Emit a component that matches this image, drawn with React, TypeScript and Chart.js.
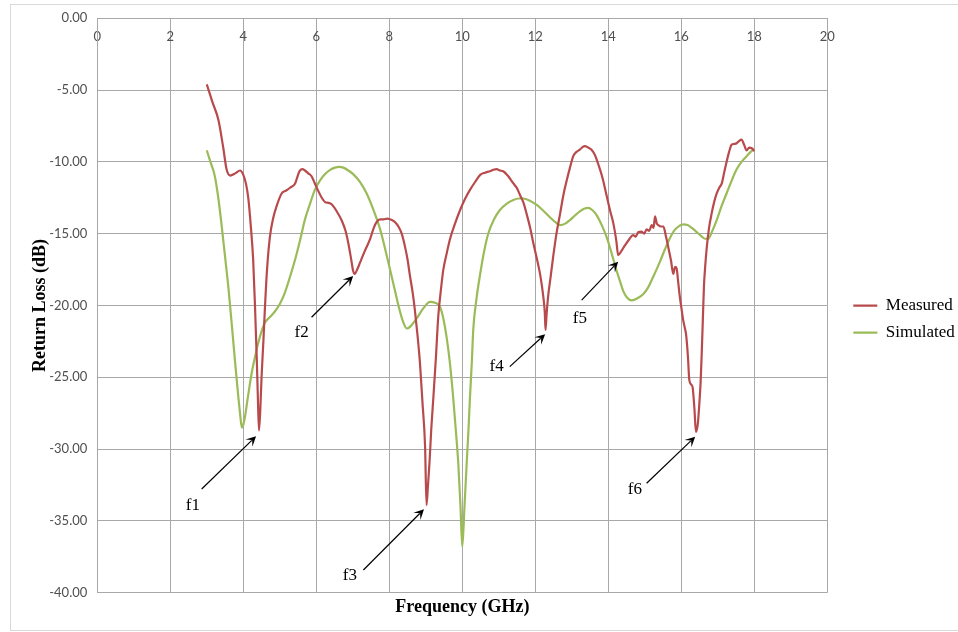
import React, { useEffect, useRef } from 'react';
import { Chart, registerables } from 'chart.js';

Chart.register(...registerables);

// Return loss traces (frequency in GHz, loss in dB)
const freqMeasured = [
  3.0, 3.15, 3.32, 3.45, 3.54, 3.64, 3.78, 3.91, 4.0, 4.08, 4.14, 4.2, 4.27, 4.32, 4.37, 4.4, 4.43, 4.47, 4.5, 4.55,
  4.59, 4.65, 4.73, 4.82, 4.91, 5.05, 5.17, 5.28, 5.42, 5.5, 5.55, 5.62, 5.69, 5.78, 5.87, 5.96, 6.05, 6.15, 6.24, 6.33,
  6.42, 6.55, 6.7, 6.8, 6.88, 6.95, 7.01, 7.05, 7.12, 7.2, 7.33, 7.47, 7.56, 7.65, 7.75, 7.84, 7.95, 8.07, 8.16, 8.25,
  8.34, 8.43, 8.5, 8.57, 8.64, 8.7, 8.77, 8.84, 8.91, 8.98, 9.02, 9.06, 9.1, 9.15, 9.21, 9.28, 9.34, 9.41, 9.48, 9.57,
  9.66, 9.8, 9.94, 10.07, 10.21, 10.35, 10.49, 10.62, 10.76, 10.85, 10.94, 11.03, 11.12, 11.26, 11.4, 11.49, 11.58, 11.67, 11.76, 11.86,
  11.95, 12.04, 12.13, 12.19, 12.22, 12.26, 12.28, 12.31, 12.35, 12.42, 12.49, 12.58, 12.68, 12.77, 12.86, 12.95, 13.04, 13.13, 13.22, 13.3,
  13.36, 13.45, 13.54, 13.63, 13.73, 13.84, 13.95, 14.05, 14.14, 14.22, 14.27, 14.36, 14.46, 14.57, 14.68, 14.75, 14.82, 14.91, 14.98, 15.05,
  15.12, 15.19, 15.24, 15.28, 15.33, 15.37, 15.45, 15.51, 15.58, 15.64, 15.72, 15.78, 15.83, 15.87, 15.92, 15.96, 16.01, 16.05, 16.1, 16.13,
  16.18, 16.22, 16.27, 16.31, 16.36, 16.4, 16.45, 16.49, 16.53, 16.56, 16.59, 16.62, 16.66, 16.7, 16.76, 16.83, 16.9, 16.97, 17.04, 17.11,
  17.17, 17.24, 17.31, 17.38, 17.45, 17.52, 17.58, 17.65, 17.72, 17.79, 17.86, 17.93, 18.0,
];
const lossMeasured = [
  -4.6, -5.8, -7.1, -9.0, -10.5, -10.95, -10.8, -10.6, -10.9, -11.6, -12.6, -14.3, -16.8, -20.0, -23.8, -26.5, -28.7, -27.0, -25.0, -22.5,
  -20.3, -17.5, -15.2, -13.9, -13.1, -12.2, -12.0, -11.8, -11.5, -10.9, -10.6, -10.5, -10.6, -10.8, -11.0, -11.5, -12.0, -12.5, -12.8, -12.85,
  -12.95, -13.4, -14.1, -14.8, -15.7, -16.7, -17.6, -17.8, -17.5, -17.0, -16.2, -15.4, -14.7, -14.2, -14.0, -14.0, -13.95, -14.05, -14.2, -14.5,
  -15.0, -15.9, -16.8, -18.0, -19.1, -20.3, -22.0, -24.0, -26.8, -29.8, -33.9, -32.5, -31.0, -28.6, -26.3, -23.5, -20.8, -19.0, -17.5, -16.4,
  -15.4, -14.3, -13.35, -12.6, -11.95, -11.4, -10.9, -10.75, -10.65, -10.55, -10.5, -10.6, -10.65, -11.0, -11.5, -11.8, -12.3, -12.8, -13.6, -14.6,
  -15.7, -16.7, -17.8, -18.8, -19.4, -20.5, -21.7, -20.6, -19.4, -18.0, -16.6, -15.0, -13.6, -12.3, -11.3, -10.4, -9.6, -9.3, -9.15, -8.95,
  -8.9, -9.0, -9.15, -9.5, -10.2, -11.1, -12.3, -13.4, -14.3, -15.5, -16.5, -16.2, -15.8, -15.4, -15.1, -15.2, -14.9, -14.85, -15.0, -14.7,
  -14.8, -14.4, -14.6, -13.8, -14.3, -14.4, -14.5, -14.5, -15.2, -15.9, -16.9, -17.8, -17.3, -17.4, -18.5, -19.4, -20.3, -21.0, -21.6, -22.0,
  -23.5, -25.2, -25.5, -25.7, -27.2, -28.8, -28.3, -27.0, -25.3, -23.3, -21.0, -18.7, -17.1, -15.9, -14.6, -13.6, -12.8, -12.2, -11.8, -11.5,
  -10.8, -10.0, -9.3, -8.8, -8.75, -8.7, -8.55, -8.45, -8.8, -9.2, -9.0, -9.05, -9.25,
];

const freqSimulated = [
  3.0, 3.1, 3.22, 3.32, 3.41, 3.5, 3.59, 3.68, 3.77, 3.85, 3.91, 3.96, 4.0, 4.05, 4.09, 4.16, 4.23, 4.32, 4.41, 4.5,
  4.59, 4.73, 4.87, 5.0, 5.14, 5.28, 5.42, 5.56, 5.69, 5.83, 5.96, 6.1, 6.24, 6.38, 6.51, 6.62, 6.74, 6.88, 7.01, 7.2,
  7.38, 7.56, 7.75, 7.88, 8.02, 8.14, 8.25, 8.36, 8.48, 8.6, 8.75, 8.93, 9.12, 9.25, 9.39, 9.48, 9.57, 9.66, 9.75, 9.82,
  9.89, 9.95, 10.0, 10.06, 10.12, 10.17, 10.21, 10.26, 10.3, 10.39, 10.49, 10.6, 10.71, 10.87, 11.03, 11.22, 11.4, 11.55, 11.67, 11.85,
  12.04, 12.22, 12.4, 12.55, 12.68, 12.82, 12.95, 13.1, 13.22, 13.35, 13.45, 13.56, 13.68, 13.82, 13.95, 14.05, 14.14, 14.23, 14.32, 14.41,
  14.53, 14.64, 14.8, 14.96, 15.1, 15.23, 15.39, 15.55, 15.69, 15.83, 15.95, 16.05, 16.17, 16.29, 16.43, 16.56, 16.65, 16.74, 16.85, 16.97,
  17.1, 17.24, 17.38, 17.52, 17.65, 17.79, 17.9, 18.0,
];
const lossSimulated = [
  -9.2, -10.0, -11.0, -12.6, -14.5, -16.6, -18.7, -21.2, -23.8, -26.0, -27.5, -28.5, -28.3, -27.7, -27.0, -25.8, -24.7, -23.6, -22.6, -21.8,
  -21.2, -20.8, -20.4, -19.9, -19.1, -18.0, -16.8, -15.4, -14.0, -12.9, -11.95, -11.3, -10.85, -10.55, -10.4, -10.35, -10.4, -10.6, -10.85, -11.4,
  -12.2, -13.3, -14.7, -16.0, -17.5, -18.8, -20.0, -21.0, -21.6, -21.4, -20.9, -20.2, -19.75, -19.8, -20.1, -20.9, -22.2, -24.0, -26.4, -28.6,
  -31.0, -34.0, -36.8, -34.0, -31.0, -28.6, -26.4, -24.0, -21.7, -19.5, -17.8, -16.2, -15.0, -14.0, -13.35, -12.9, -12.65, -12.55, -12.55, -12.7,
  -13.0, -13.4, -13.85, -14.2, -14.4, -14.3, -14.05, -13.7, -13.45, -13.25, -13.2, -13.35, -13.7, -14.4, -15.2, -16.0, -16.8, -17.6, -18.3, -19.0,
  -19.5, -19.65, -19.5, -19.2, -18.7, -18.0, -17.1, -16.1, -15.3, -14.7, -14.45, -14.35, -14.4, -14.6, -14.9, -15.2, -15.35, -15.35, -14.8, -14.05,
  -13.1, -12.2, -11.3, -10.5, -10.0, -9.6, -9.3, -9.1,
];

// Resonance markers: label, arrow tip, arrow tail, label anchor (GHz, dB)
const markerNames = ['f1', 'f2', 'f3', 'f4', 'f5', 'f6'];
const markerTips = [[4.35, -29.1], [7.01, -17.95], [8.95, -34.19], [12.27, -22.0], [14.27, -16.95], [16.38, -29.14]];
const markerTails = [[2.86, -32.78], [5.87, -20.82], [7.29, -38.42], [11.3, -24.26], [13.27, -19.62], [15.05, -32.38]];
const markerLabelAt = [[2.62, -33.9], [5.6, -21.9], [6.92, -38.77], [10.94, -24.26], [13.22, -20.9], [14.73, -32.85]];

const GRID = '#a8a8a8';
const TICK_TEXT = '#4f4f4f';
const RED = '#b84a4c';
const GREEN = '#9bbb59';

const toPoints = (xs: number[], ys: number[]) => xs.map((x, i) => ({ x, y: ys[i] }));

const frame = {
  id: 'frame',
  beforeDraw(chart: any) {
    const { ctx, width, height } = chart;
    ctx.save();
    ctx.fillStyle = '#ffffff';
    ctx.fillRect(0, 0, width, height);
    ctx.strokeStyle = '#d9d9d9';
    ctx.lineWidth = 1;
    ctx.strokeRect(10.5, 4.5, width, 626);
    ctx.restore();
  },
};

const markers = {
  id: 'resonanceMarkers',
  afterDatasetsDraw(chart: any) {
    const { ctx } = chart;
    const xs = chart.scales.x;
    const ys = chart.scales.y;
    ctx.save();
    markerNames.forEach((name, i) => {
      const hx = xs.getPixelForValue(markerTips[i][0]);
      const hy = ys.getPixelForValue(markerTips[i][1]);
      const tx = xs.getPixelForValue(markerTails[i][0]);
      const ty = ys.getPixelForValue(markerTails[i][1]);
      const a = Math.atan2(hy - ty, hx - tx);
      const c = Math.cos(a);
      const s = Math.sin(a);
      const len = 10;
      const half = 5;
      ctx.strokeStyle = '#000';
      ctx.lineWidth = 1.2;
      ctx.beginPath();
      ctx.moveTo(tx, ty);
      ctx.lineTo(hx - c * len * 0.6, hy - s * len * 0.6);
      ctx.stroke();
      ctx.fillStyle = '#000';
      ctx.beginPath();
      ctx.moveTo(hx, hy);
      ctx.lineTo(hx - c * len - s * half, hy - s * len + c * half);
      ctx.lineTo(hx - c * len * 0.55, hy - s * len * 0.55);
      ctx.lineTo(hx - c * len + s * half, hy - s * len - c * half);
      ctx.closePath();
      ctx.fill();
      ctx.font = '17px "Liberation Serif"';
      ctx.textAlign = 'center';
      ctx.textBaseline = 'middle';
      ctx.fillText(name, xs.getPixelForValue(markerLabelAt[i][0]), ys.getPixelForValue(markerLabelAt[i][1]));
    });
    ctx.restore();
  },
};

export default function App() {
  const canvasRef = useRef<HTMLCanvasElement | null>(null);

  useEffect(() => {
    if (!canvasRef.current) return;
    const tickFont = { family: 'Lato', size: 13 };
    const titleFont = { family: '"Liberation Serif"', size: 18, weight: 'bold' as const };
    const chart = new Chart(canvasRef.current, {
      type: 'line',
      data: {
        datasets: [
          {
            label: 'Measured',
            data: toPoints(freqMeasured, lossMeasured),
            borderColor: RED,
            backgroundColor: RED,
            borderWidth: 2.2,
            pointRadius: 0,
            cubicInterpolationMode: 'monotone',
            xAxisID: 'x',
            yAxisID: 'y',
          },
          {
            label: 'Simulated',
            data: toPoints(freqSimulated, lossSimulated),
            borderColor: GREEN,
            backgroundColor: GREEN,
            borderWidth: 2.2,
            pointRadius: 0,
            cubicInterpolationMode: 'monotone',
            xAxisID: 'x',
            yAxisID: 'y',
          },
        ],
      },
      options: {
        animation: false,
        responsive: false,
        maintainAspectRatio: false,
        layout: { padding: { left: 0, top: 18.3, right: 0, bottom: 12 } },
        scales: {
          x: {
            type: 'linear',
            position: { y: 0 } as any,
            min: 0,
            max: 20,
            ticks: { stepSize: 2, autoSkip: false, padding: 10.5, color: TICK_TEXT, font: tickFont },
            grid: { color: GRID, drawTicks: false },
            border: { color: GRID },
          },
          y: {
            type: 'linear',
            position: 'left',
            min: -40,
            max: 0,
            ticks: {
              stepSize: 5,
              padding: 10,
              color: TICK_TEXT,
              font: tickFont,
              callback: (v: any) => Number(v).toFixed(2),
            },
            grid: { color: GRID, drawTicks: false },
            border: { color: GRID },
            title: {
              display: true,
              text: 'Return Loss (dB)',
              color: '#000',
              font: titleFont,
              padding: { top: 29.2, bottom: 0 },
            },
            afterFit: (s: any) => {
              s.width = 97.3;
            },
          },
          xTitle: {
            type: 'linear',
            axis: 'x',
            position: 'bottom',
            min: 0,
            max: 20,
            ticks: { display: false },
            grid: { display: false, drawTicks: false },
            border: { display: false },
            title: {
              display: true,
              text: 'Frequency (GHz)',
              color: '#000',
              font: titleFont,
              padding: { top: 0, bottom: 2.2 },
            },
            afterFit: (s: any) => {
              s.height = 27.3;
            },
          },
          legendGap: {
            type: 'linear',
            axis: 'y',
            position: 'right',
            ticks: { display: false },
            grid: { display: false, drawTicks: false },
            border: { display: false },
            afterFit: (s: any) => {
              s.width = 16;
            },
          },
        } as any,
        plugins: {
          legend: {
            position: 'right',
            maxWidth: 114.7,
            labels: {
              usePointStyle: true,
              pointStyle: 'line',
              pointStyleWidth: 24,
              padding: 10,
              color: '#000',
              font: { family: '"Liberation Serif"', size: 17 },
            },
          },
          tooltip: { enabled: false },
        },
      },
      plugins: [frame, markers],
    });
    return () => chart.destroy();
  }, []);

  return (
    <div style={{ position: 'absolute', left: 0, top: 0, width: 958, height: 632 }}>
      <canvas ref={canvasRef} width={958} height={632} />
    </div>
  );
}
